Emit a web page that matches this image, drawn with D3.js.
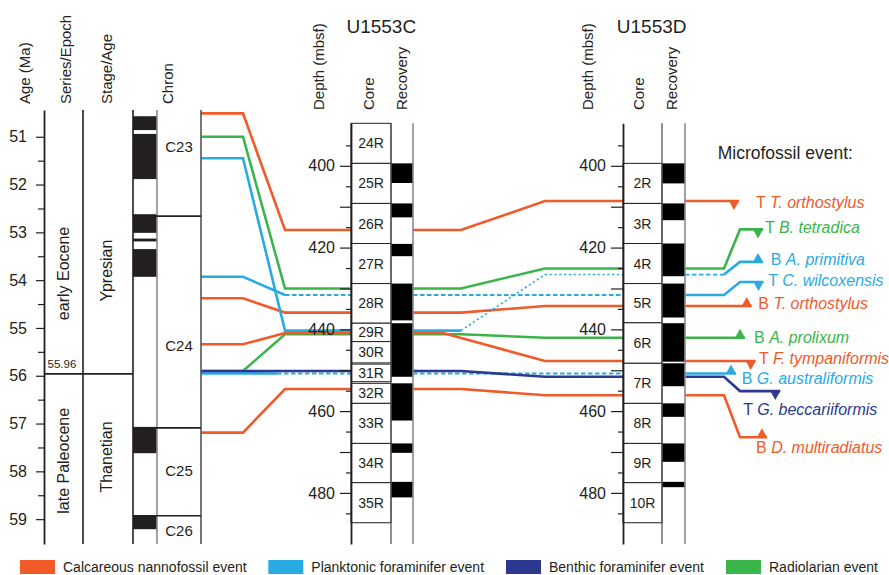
<!DOCTYPE html>
<html>
<head>
<meta charset="utf-8">
<script src="https://cdn.jsdelivr.net/npm/d3@7"></script>
<style>
  body { margin: 0; background: #fff; }
  svg { font-family: "Liberation Sans", Arial, sans-serif; }
</style>
</head>
<body>
<svg id="chart" width="889" height="575"></svg>
<script>
// ---- age side (Ma) ----
const ageExtent = [50.44, 59.52];
const ageTicks = [51, 52, 53, 54, 55, 56, 57, 58, 59];
const ageMinor = [51.5, 52.5, 53.5, 54.5, 55.5, 56.5, 57.5, 58.5];
const epochBoundary = 55.96;
const epochNames = ["early Eocene", "late Paleocene"];
const epochLabelAge = [53.86, 57.78];
const stageNames = ["Ypresian", "Thanetian"];
const stageLabelAge = [53.8, 57.7];
const chronNormal = [[50.57, 50.86], [50.94, 51.885], [52.62, 53.01], [53.13, 53.19],
                     [53.35, 53.93], [57.07, 57.62], [58.93, 59.21]];
const chronBounds = [52.66, 57.09, 58.93];
const chronNames = ["C23", "C24", "C25", "C26"];
const chronLabelAge = [51.2, 55.37, 57.98, 59.25];

// ---- depth side (mbsf) ----
const depthExtent = [389.6, 492.5];
const depthMajor = [400, 420, 440, 460, 480];
const depthMid = [410, 430, 450, 470];
const depthMinor = [395, 405, 415, 425, 435, 445, 455, 465, 475, 485];

const coresC = ["24R", "25R", "26R", "27R", "28R", "29R", "30R", "31R", "32R", "33R", "34R", "35R"];
const coreTopC = [389.6, 399.4, 409.2, 419.0, 428.8, 438.5, 443.0, 448.5, 453.2, 458.1, 467.9, 477.5];
const coreBotC = [399.4, 409.2, 419.0, 428.8, 438.5, 443.0, 448.2, 452.8, 458.1, 467.9, 477.5, 487.3];
const recoveryC = [[399.4, 404.2], [409.2, 412.6], [419.1, 422.1], [428.8, 437.8], [438.5, 451.6],
                   [453.2, 462.3], [467.9, 470.2], [477.3, 481.1]];

const coresD = ["2R", "3R", "4R", "5R", "6R", "7R", "8R", "9R", "10R"];
const coreTopD = [399.4, 409.2, 419.0, 428.8, 438.4, 448.3, 458.1, 467.9, 477.5];
const coreBotD = [409.2, 419.0, 428.8, 438.4, 448.3, 458.1, 467.9, 477.5, 487.3];
const recoveryD = [[399.4, 404.3], [409.2, 413.3], [419.0, 427.0], [428.8, 437.1], [438.5, 447.9],
                   [448.3, 453.9], [458.1, 461.4], [467.9, 472.4], [477.3, 478.6]];

// ---- microfossil events ----
const groups = ["nanno", "plank", "benthic", "rad"];
const groupNames = ["Calcareous nannofossil event", "Planktonic foraminifer event",
                    "Benthic foraminifer event", "Radiolarian event"];
const groupColors = ["#F15A29", "#29ABE2", "#2B3990", "#39B54A"];

const eventType  = ["T", "T", "B", "T", "B", "B", "T", "B", "T", "B"];
const eventTaxon = ["T. orthostylus", "B. tetradica", "A. primitiva", "C. wilcoxensis", "T. orthostylus",
                    "A. prolixum", "F. tympaniformis", "G. australiformis", "G. beccariiformis", "D. multiradiatus"];
const eventGroup = ["nanno", "rad", "plank", "plank", "nanno", "rad", "nanno", "plank", "benthic", "nanno"];
const eventAge   = [50.51, 51.0, 51.45, 53.93, 54.38, 55.9, 55.34, 55.95, 55.9, 57.19];
const eventDepthC = [415.7, 430.0, 440.3, 431.6, 435.9, 441.2, 440.9, 450.8, 450.2, 454.6];
const eventDepthD = [408.6, 425.1, 426.6, 431.6, 434.3, 442.05, 447.75, 450.8, 451.6, 456.1];

// label placement on the right (layout only)
const labelLayout = [
  { tri: 734,   lx: 756,   dy: 6.6,  jog: null },
  { tri: 758,   lx: 765,   dy: 3.4,  jog: 415.55 },
  { tri: 758,   lx: 770.7, dy: 3.3,  jog: 423.5 },
  { tri: 758.5, lx: 768.3, dy: 4.3,  jog: 428.4 },
  { tri: 746.7, lx: 758.3, dy: 3.3,  jog: null },
  { tri: 740,   lx: 754,   dy: 5,    jog: null },
  { tri: 750.7, lx: 759,   dy: 2.6,  jog: null },
  { tri: 731,   lx: 741.7, dy: 10.7, jog: null },
  { tri: 775.3, lx: 743.3, dy: 24,   jog: 455.1 },
  { tri: 762,   lx: 756,   dy: 16,   jog: 466.4 }
];
// uncertain (dashed / dotted) parts of some correlations
const lineStyle = {
  "C. wilcoxensis": { aDash: 285, bDash: 413, bPat: "dash" },
  "G. australiformis": { aDash: 277, bDash: 413, bPat: "dash" },
  "A. primitiva": { bDash: 461, bPat: "dot", cDashTo: 724 }
};

const ink = "#231F20";
const svg = d3.select("#chart");

const yAge = d3.scaleLinear().domain(ageExtent).range([110, 544]);
const yDep = d3.scaleLinear().domain(depthExtent).range([123.3, 544]);
const color = d3.scaleOrdinal().domain(groups).range(groupColors);

// column x positions
const X = { age: 44, epoch: 83, stage: 133, pol: 157, chron: 201,
            cL: 351, cCore: 391, cR: 413, dL: 623, dCore: 662, dR: 685 };

const line = d3.line();

function splitAt(pts, x) {
  const left = [], right = [];
  pts.forEach((p, i) => {
    if (p[0] <= x) left.push(p);
    const q = pts[i + 1];
    if (q && p[0] < x && q[0] > x) {
      const t = (x - p[0]) / (q[0] - p[0]);
      const m = [x, p[1] + t * (q[1] - p[1])];
      left.push(m); right.push(m);
    }
    if (p[0] >= x) right.push(p);
  });
  return [left, right];
}

const gLines = svg.append("g");
function seg(pts, col, pat) {
  if (pts.length < 2) return;
  const p = gLines.append("path")
    .attr("d", line(pts))
    .attr("fill", "none")
    .attr("stroke", col)
    .attr("stroke-linejoin", "miter");
  if (pat === "dash") p.attr("stroke-width", 1.8).attr("stroke-dasharray", "4.5,2.5");
  else if (pat === "dot") p.attr("stroke-width", 1.6).attr("stroke-dasharray", "2.2,2.6");
  else p.attr("stroke-width", 2.6);
}

// draw order: radiolarian, nannofossil, planktonic, benthic
const order = d3.range(eventType.length).sort((a, b) =>
  ["rad", "nanno", "plank", "benthic"].indexOf(eventGroup[a]) -
  ["rad", "nanno", "plank", "benthic"].indexOf(eventGroup[b]));

order.forEach(i => {
  const col = color(eventGroup[i]);
  const st = lineStyle[eventTaxon[i]] || {};
  const lay = labelLayout[i];
  const yA = yAge(eventAge[i]), yC = yDep(eventDepthC[i]), yD = yDep(eventDepthD[i]);
  const bendB = eventTaxon[i] === "F. tympaniformis" ? 443 : 461;

  const a = [[X.chron, yA], [243, yA], [285, yC], [X.cL, yC]];
  if (st.aDash) { const [l, r] = splitAt(a, st.aDash); seg(l, col); seg(r, col, "dash"); }
  else seg(a, col);

  const b = [[X.cR, yC], [bendB, yC], [545, yD], [X.dL, yD]];
  if (st.bDash) { const [l, r] = splitAt(b, st.bDash); seg(l, col); seg(r, col, st.bPat); }
  else seg(b, col);

  const yJ = lay.jog == null ? yD : yDep(lay.jog);
  const c = lay.jog == null
    ? [[X.dR, yD], [lay.tri + 5, yD]]
    : [[X.dR, yD], [724, yD], [740, yJ], [lay.tri + 5, yJ]];
  if (st.cDashTo) { const [l, r] = splitAt(c, st.cDashTo); seg(l, col, "dash"); seg(r, col); }
  else seg(c, col);

  // marker: T = top (down triangle), B = base (up triangle)
  const h = eventType[i] === "T" ? 9 : -9;
  gLines.append("path")
    .attr("d", line([[lay.tri - 5, yJ], [lay.tri + 5, yJ], [lay.tri, yJ + h]]) + "Z")
    .attr("fill", col);

  const t = svg.append("text")
    .attr("x", lay.lx).attr("y", yJ + lay.dy)
    .attr("font-size", 16).attr("fill", col);
  t.append("tspan").text(eventType[i] + " ");
  t.append("tspan").attr("font-style", "italic").text(eventTaxon[i]);
});

// ---- age / stratigraphy columns ----
const gAge = svg.append("g");
gAge.selectAll("rect.pol").data(chronNormal).join("rect")
  .attr("x", X.stage).attr("width", X.pol - X.stage)
  .attr("y", d => yAge(d[0])).attr("height", d => yAge(d[1]) - yAge(d[0]))
  .attr("fill", ink);

[[X.epoch, ink, 1.6], [X.stage, ink, 1.6], [X.pol, "#8a8a8a", 1.6], [X.chron, "#555", 1.6]].forEach(d => {
  gAge.append("line").attr("x1", d[0]).attr("x2", d[0]).attr("y1", 110).attr("y2", 544)
    .attr("stroke", d[1]).attr("stroke-width", d[2]);
});
gAge.selectAll("line.cb").data(chronBounds).join("line")
  .attr("x1", X.stage).attr("x2", X.chron)
  .attr("y1", d => yAge(d)).attr("y2", d => yAge(d))
  .attr("stroke", ink).attr("stroke-width", 1.6);
gAge.append("line").attr("x1", X.age).attr("x2", X.stage)
  .attr("y1", yAge(epochBoundary)).attr("y2", yAge(epochBoundary))
  .attr("stroke", ink).attr("stroke-width", 1.6);
gAge.append("text").attr("x", 47.5).attr("y", yAge(epochBoundary) - 5.5)
  .attr("font-size", 11.5).attr("fill", ink).text(epochBoundary.toFixed(2));

chronNames.forEach((n, i) => {
  gAge.append("text").attr("x", 179).attr("y", yAge(chronLabelAge[i])).attr("dy", "0.35em")
    .attr("text-anchor", "middle").attr("font-size", 15).attr("fill", ink).text(n);
});
epochNames.forEach((n, i) => {
  gAge.append("text").attr("transform", `translate(69,${yAge(epochLabelAge[i])}) rotate(-90)`)
    .attr("text-anchor", "middle").attr("font-size", 16).attr("fill", ink).text(n);
});
stageNames.forEach((n, i) => {
  gAge.append("text").attr("transform", `translate(112,${yAge(stageLabelAge[i])}) rotate(-90)`)
    .attr("text-anchor", "middle").attr("font-size", 16).attr("fill", ink).text(n);
});

const ageAxis = svg.append("g").attr("transform", `translate(${X.age},0)`)
  .call(d3.axisLeft(yAge).tickValues(ageTicks).tickSize(8).tickSizeOuter(0).tickPadding(9)
    .tickFormat(d3.format("d")));
svg.append("g").attr("transform", `translate(${X.age},0)`)
  .call(d3.axisLeft(yAge).tickValues(ageMinor).tickSize(6).tickFormat(""))
  .call(g => g.select(".domain").remove());

// ---- core columns ----
function coreColumn(x0, xCore, x1, names, tops, bots, rec, majorSize) {
  const g = svg.append("g");
  g.append("rect").attr("x", x0).attr("y", 123.3).attr("width", x1 - x0).attr("height", 544 - 123.3)
    .attr("fill", "#fff");
  g.selectAll("rect.rec").data(rec).join("rect")
    .attr("x", xCore).attr("width", x1 - xCore)
    .attr("y", d => yDep(d[0])).attr("height", d => yDep(d[1]) - yDep(d[0]))
    .attr("fill", "#000");
  names.forEach((n, i) => {
    g.append("rect").attr("x", x0).attr("width", xCore - x0)
      .attr("y", yDep(tops[i])).attr("height", yDep(bots[i]) - yDep(tops[i]))
      .attr("fill", "#fff").attr("stroke", ink).attr("stroke-width", 1);
    g.append("text").attr("x", (x0 + xCore) / 2).attr("y", (yDep(tops[i]) + yDep(bots[i])) / 2)
      .attr("dy", "0.36em").attr("text-anchor", "middle").attr("font-size", 14).attr("fill", ink).text(n);
  });
  g.append("line").attr("x1", xCore).attr("x2", xCore).attr("y1", 123.3).attr("y2", 544)
    .attr("stroke", "#555").attr("stroke-width", 1.3);
  g.append("line").attr("x1", x1).attr("x2", x1).attr("y1", 123.3).attr("y2", 544)
    .attr("stroke", "#8a8a8a").attr("stroke-width", 1.6);

  const ax = svg.append("g").attr("transform", `translate(${x0},0)`);
  ax.call(d3.axisLeft(yDep).tickValues(depthMajor).tickSize(majorSize).tickSizeOuter(0).tickPadding(5)
    .tickFormat(d3.format("d")));
  ax.append("g").call(d3.axisLeft(yDep).tickValues(depthMid).tickSize(majorSize).tickFormat(""))
    .call(s => s.select(".domain").remove());
  ax.append("g").call(d3.axisLeft(yDep).tickValues(depthMinor).tickSize(5).tickFormat(""))
    .call(s => s.select(".domain").remove());
  return ax;
}
const axC = coreColumn(X.cL, X.cCore, X.cR, coresC, coreTopC, coreBotC, recoveryC, 11);
const axD = coreColumn(X.dL, X.dCore, X.dR, coresD, coreTopD, coreBotD, recoveryD, 12);

[ageAxis, axC, axD].forEach(a => {
  a.selectAll("text").attr("font-size", 16).attr("fill", ink).attr("font-family", "Liberation Sans, Arial, sans-serif");
  a.selectAll("line").attr("stroke", ink).attr("stroke-width", 1.2);
  a.select(".domain").attr("stroke", ink).attr("stroke-width", 1.8);
});
svg.selectAll(".tick line").attr("stroke", ink).attr("stroke-width", 1.2);

// ---- headers ----
const headers = [
  ["Age (Ma)", 30, 104], ["Series/Epoch", 71, 104], ["Stage/Age", 112, 104], ["Chron", 172.5, 104],
  ["Depth (mbsf)", 323.5, 110], ["Core", 374.3, 110], ["Recovery", 406.5, 110],
  ["Depth (mbsf)", 592.7, 110], ["Core", 644.3, 110], ["Recovery", 676.7, 110]
];
headers.forEach(h => {
  svg.append("text").attr("transform", `translate(${h[1]},${h[2]}) rotate(-90)`)
    .attr("font-size", 15).attr("fill", ink).text(h[0]);
});
[["U1553C", 381.3], ["U1553D", 651.7]].forEach(t => {
  svg.append("text").attr("x", t[1]).attr("y", 33.3).attr("text-anchor", "middle")
    .attr("font-size", 19).attr("fill", ink).text(t[0]);
});
svg.append("text").attr("x", 717.7).attr("y", 159.3).attr("font-size", 17.5).attr("fill", ink)
  .text("Microfossil event:");

// ---- legend ----
const legendX = [20, 268.3, 506, 726];
groups.forEach((g, i) => {
  svg.append("rect").attr("x", legendX[i]).attr("y", 560).attr("width", 35).attr("height", 14)
    .attr("fill", color(g));
  svg.append("text").attr("x", legendX[i] + 43).attr("y", 571.5).attr("font-size", 14)
    .attr("fill", ink).text(groupNames[i]);
});
</script>
</body>
</html>
